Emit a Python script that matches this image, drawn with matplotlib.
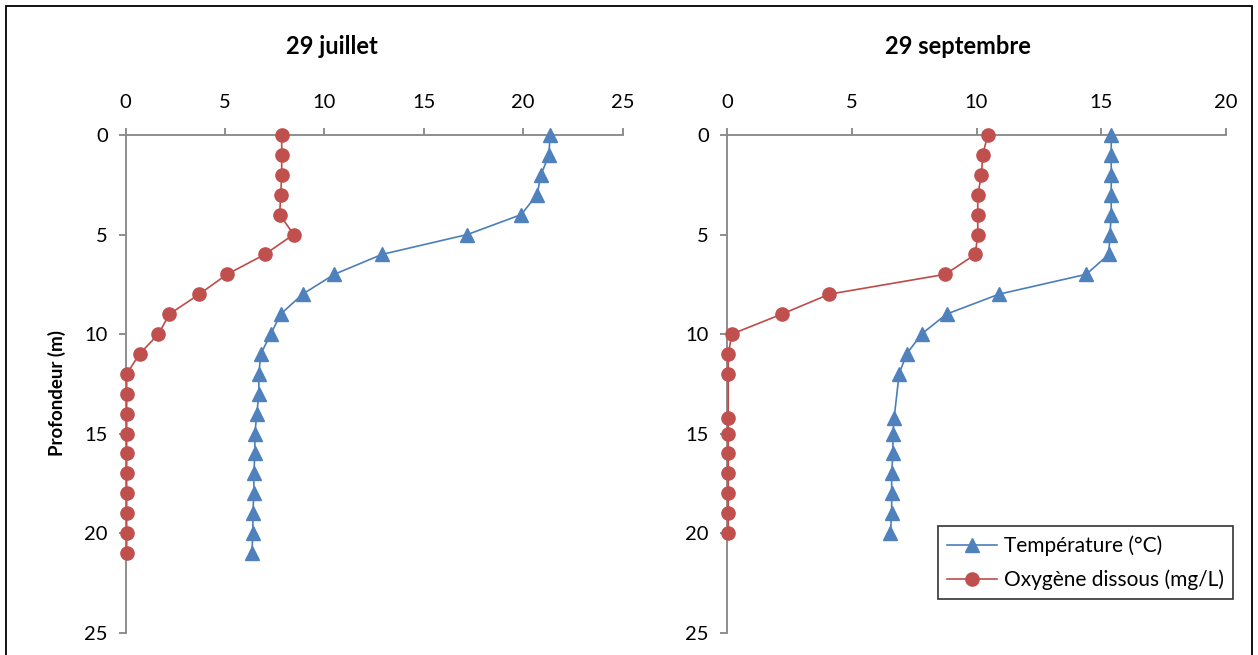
import matplotlib
matplotlib.use("Agg")
import matplotlib.pyplot as plt
from matplotlib.patches import Rectangle

plt.rcParams['font.family'] = ['Lato', 'DejaVu Sans']

# ---- data ----
depth_jul = list(range(0, 22))
temp_jul = [21.35, 21.3, 20.9, 20.7, 19.9, 17.2, 12.9, 10.5, 8.9, 7.8, 7.3, 6.8,
            6.7, 6.7, 6.6, 6.5, 6.5, 6.45, 6.45, 6.4, 6.4, 6.35]
oxy_jul = [7.85, 7.85, 7.85, 7.8, 7.75, 8.45, 7.0, 5.1, 3.7, 2.2, 1.65, 0.7,
           0.05, 0.05, 0.05, 0.05, 0.05, 0.05, 0.05, 0.05, 0.05, 0.05]

depth_sep = [0, 1, 2, 3, 4, 5, 6, 7, 8, 9, 10, 11, 12, 14.2, 15, 16, 17, 18, 19, 20]
temp_sep = [15.4, 15.4, 15.4, 15.4, 15.4, 15.35, 15.3, 14.4, 10.9, 8.8, 7.8, 7.2,
            6.9, 6.7, 6.65, 6.65, 6.6, 6.6, 6.6, 6.55]
oxy_sep = [10.45, 10.25, 10.2, 10.05, 10.05, 10.05, 9.95, 8.75, 4.1, 2.2, 0.2, 0.05,
           0.05, 0.05, 0.05, 0.05, 0.05, 0.05, 0.05, 0.05]

titles = ["29 juillet", "29 septembre"]
xmax = [25, 20]
ylabel = "Profondeur (m)"
labels = ["Température (°C)", "Oxygène dissous (mg/L)"]

BLUE_L = "#4A7EBB"
BLUE_M = "#4F81BD"
RED_L = "#BE4B48"
RED_M = "#C0504D"
GRAY = "#868686"

W, H = 1258, 655
fig = plt.figure(figsize=(W / 100, H / 100), dpi=100)

def fx(px):
    return px / W

def fy(py):
    return 1 - py / H

panels = [
    (125.7, 622.5, depth_jul, temp_jul, oxy_jul),
    (727.0, 1226.0, depth_sep, temp_sep, oxy_sep),
]
ytop, ybot = 135.0, 632.5
axes = []
for i, (x0, x1, d, t, o) in enumerate(panels):
    ax = fig.add_axes([fx(x0), fy(ybot), fx(x1 - x0), (ybot - ytop) / H])
    ax.set_xlim(0, xmax[i])
    ax.set_ylim(25, 0)
    ax.set_xticks(range(0, xmax[i] + 1, 5))
    ax.set_yticks(range(0, 26, 5))
    ax.xaxis.tick_top()
    for s in ['right', 'bottom']:
        ax.spines[s].set_visible(False)
    for s in ['left', 'top']:
        ax.spines[s].set_color(GRAY)
        ax.spines[s].set_linewidth(1.3)
    ax.tick_params(axis='both', colors=GRAY, labelcolor='black', labelsize=14.5,
                   length=5, width=1.3, direction='out')
    ax.tick_params(axis='x', pad=12)
    ax.tick_params(axis='y', pad=8)
    ax.patch.set_alpha(0)
    lt, = ax.plot(t, d, color=BLUE_L, lw=1.2, marker='^', ms=9.5,
                  mfc=BLUE_M, mec=BLUE_M, clip_on=False, zorder=3)
    lo, = ax.plot(o, d, color=RED_L, lw=1.2, marker='o', ms=9.5,
                  mfc=RED_M, mec=RED_M, clip_on=False, zorder=3)
    axes.append((ax, lt, lo))

fig.text(fx(332), fy(46), titles[0], ha='center', va='center',
         fontsize=17, fontweight='bold')
fig.text(fx(958), fy(46), titles[1], ha='center', va='center',
         fontsize=17, fontweight='bold')
fig.text(fx(57), fy(393), ylabel, ha='center', va='center', rotation=90,
         fontsize=13.5, fontweight='bold')

ax2, lt2, lo2 = axes[1]
leg = fig.legend([lt2, lo2], labels, loc='upper left',
                 bbox_to_anchor=(fx(938), fy(526)), fontsize=15,
                 frameon=True, fancybox=False, edgecolor='black',
                 handlelength=2.4, handletextpad=0.3, borderpad=0.45,
                 labelspacing=0.65, borderaxespad=0)
leg.get_frame().set_linewidth(1.2)

fig.patches.append(Rectangle((fx(6), fy(660)), fx(1252 - 6), (660 - 6) / H,
                             transform=fig.transFigure, fill=False,
                             edgecolor='black', lw=1.3))

fig.savefig("out.png", dpi=100)
